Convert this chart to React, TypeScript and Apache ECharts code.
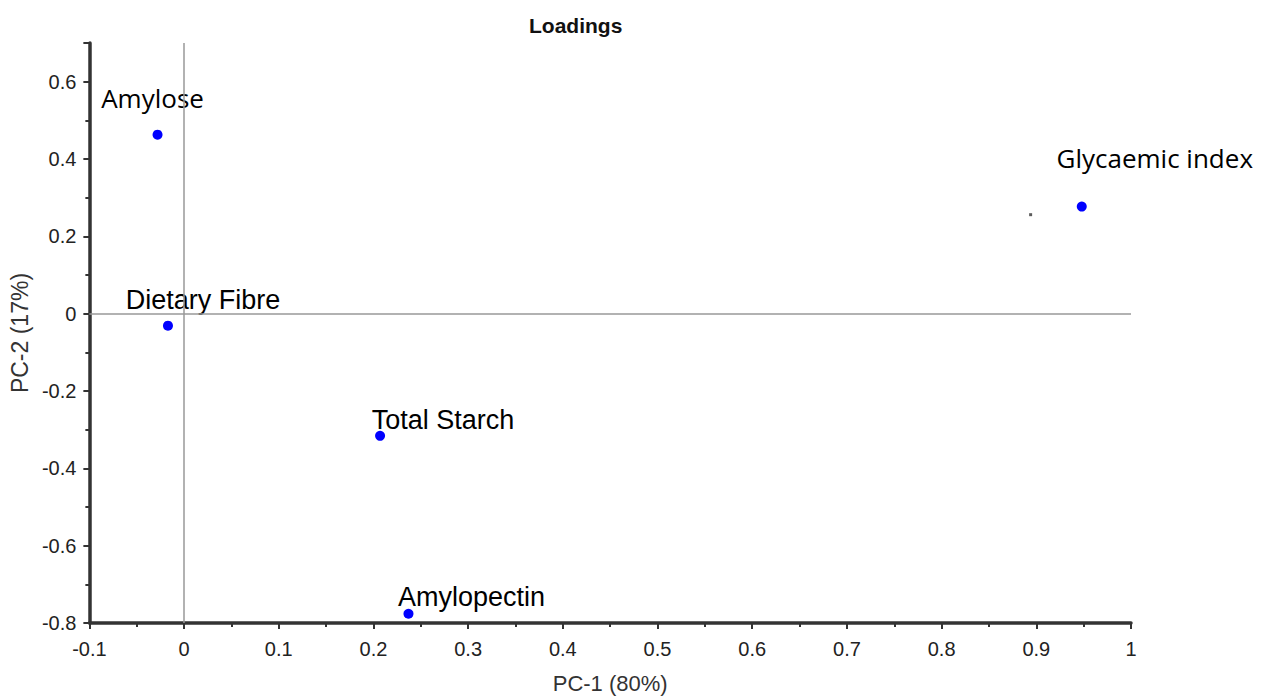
import React, { useEffect, useRef } from "react";
import * as echarts from "echarts";

const variableNames = ["Amylose", "Glycaemic index", "Dietary Fibre", "Total Starch", "Amylopectin"];
const pc1Values = [-0.028, 0.948, -0.017, 0.207, 0.237];
const pc2Values = [0.463, 0.277, -0.031, -0.316, -0.776];
const strayDot = [0.894, 0.256];

const xTickMin = -0.1;
const xTickMax = 1;
const yTickMin = -0.8;
const yTickMax = 0.7;

const calibriLike = "'Open Sans', 'Noto Sans', sans-serif";
const narrowFont = "'Liberation Sans Narrow', 'Liberation Sans', Arial, sans-serif";
const axisFont = "'Liberation Sans', Arial, sans-serif";

const labelStyles: Record<string, { offset: number[]; font: string; size: number }> = {
  "Amylose": { offset: [-5, -37], font: calibriLike, size: 26 },
  "Glycaemic index": { offset: [73, -49], font: calibriLike, size: 26 },
  "Dietary Fibre": { offset: [35, -26], font: narrowFont, size: 27 },
  "Total Starch": { offset: [63, -16], font: narrowFont, size: 27 },
  "Amylopectin": { offset: [63, -17], font: narrowFont, size: 27 },
};

const fmt = (v: number) => String(Math.round(v * 10) / 10);

export default function App() {
  const ref = useRef<HTMLDivElement>(null);
  useEffect(() => {
    if (!ref.current) return;
    const chart = echarts.init(ref.current, undefined, { renderer: "svg" });
    const axisCommon = {
      axisLine: { show: true, onZero: false, lineStyle: { color: "#333", width: 3.5 } },
      axisTick: { show: true, inside: false, length: 6, lineStyle: { color: "#333", width: 2 } },
      minorTick: { show: true, splitNumber: 2, length: 4, lineStyle: { color: "#333", width: 2 } },
      splitLine: { show: false },
      minorSplitLine: { show: false },
    };
    chart.setOption({
      animation: false,
      backgroundColor: "#fff",
      title: {
        text: "Loadings",
        left: 524,
        top: 10,
        textStyle: { fontFamily: narrowFont, fontWeight: "bold", fontSize: 21, color: "#111" },
      },
      grid: { left: 88, right: 144, top: 43, bottom: 66, containLabel: false },
      xAxis: {
        type: "value",
        min: xTickMin,
        max: xTickMax,
        interval: 0.1,
        name: "PC-1 (80%)",
        nameLocation: "middle",
        nameGap: 49,
        nameTextStyle: { fontFamily: axisFont, fontSize: 22, color: "#333" },
        axisLabel: {
          margin: 16,
          formatter: (v: number) => fmt(v),
          fontFamily: axisFont,
          fontSize: 20,
          color: "#222",
        },
        ...axisCommon,
      },
      yAxis: {
        type: "value",
        min: yTickMin,
        max: yTickMax,
        interval: 0.2,
        name: "PC-2 (17%)",
        nameLocation: "middle",
        nameGap: 58,
        nameTextStyle: { fontFamily: axisFont, fontSize: 23, color: "#333" },
        axisLabel: {
          margin: 13,
          showMaxLabel: false,
          formatter: (v: number) => fmt(v),
          fontFamily: axisFont,
          fontSize: 20,
          color: "#222",
        },
        ...axisCommon,
      },
      series: [
        {
          type: "scatter",
          symbol: "circle",
          symbolSize: 10,
          itemStyle: { color: "#0000ff", opacity: 1 },
          data: variableNames.map((n, i) => {
            const s = labelStyles[n];
            return {
              name: n,
              value: [pc1Values[i], pc2Values[i]],
              label: {
                show: true,
                position: "inside",
                align: "center",
                verticalAlign: "middle",
                offset: s.offset,
                formatter: n,
                fontFamily: s.font,
                fontSize: s.size,
                color: "#000",
              },
            };
          }),
          markLine: {
            silent: true,
            symbol: "none",
            label: { show: false },
            lineStyle: { color: "#999", width: 1.5, type: "solid" },
            data: [{ xAxis: 0 }, { yAxis: 0 }],
          },
          z: 3,
        },
        {
          type: "scatter",
          symbol: "rect",
          symbolSize: 3,
          itemStyle: { color: "#333" },
          data: [strayDot],
        },
      ],
    });
    return () => chart.dispose();
  }, []);
  return (
    <div
      ref={ref}
      style={{ position: "fixed", left: 0, top: 0, width: 1275, height: 699, background: "#fff" }}
    />
  );
}
